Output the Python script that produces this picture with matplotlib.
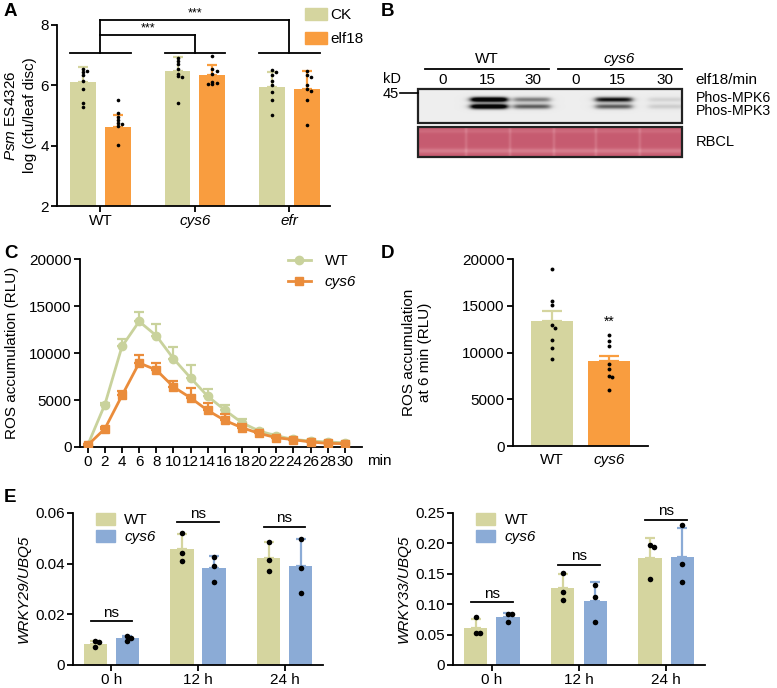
import matplotlib

matplotlib.use("Agg")  # non-GUI backend
import matplotlib.pyplot as plt
import numpy as np
from matplotlib.patches import Patch, Rectangle
from matplotlib.lines import Line2D

plt.rcParams["font.family"] = ["Liberation Sans", "DejaVu Sans"]
plt.rcParams["mathtext.fontset"] = "custom"
plt.rcParams["mathtext.rm"] = "Liberation Sans"
plt.rcParams["mathtext.it"] = "Liberation Sans:italic"
plt.rcParams["font.size"] = 11
plt.rcParams["axes.linewidth"] = 1.3
plt.rcParams["xtick.major.width"] = 1.3
plt.rcParams["ytick.major.width"] = 1.3
plt.rcParams["xtick.major.size"] = 4
plt.rcParams["ytick.major.size"] = 4

KHAKI = "#D5D59F"
ORANGE = "#F99D3F"
BLUE = "#8BABD6"
LINE_WT = "#C9D29C"
LINE_CYS = "#EA8C3B"
FS = 11

# ---- panel A: bacterial growth ----
a_groups = ["WT", "cys6", "efr"]
a_ck_mean = [6.10, 6.46, 5.95]
a_ck_sd = [0.50, 0.47, 0.50]
a_elf_mean = [4.62, 6.35, 5.88]
a_elf_sd = [0.41, 0.33, 0.58]
a_ck_pts = [
    [6.55, 6.49, 6.44, 6.33, 6.16, 5.89, 5.40, 5.27],
    [6.91, 6.82, 6.71, 6.55, 6.38, 6.30, 6.27, 5.42],
    [6.51, 6.44, 6.33, 6.16, 6.00, 5.78, 5.51, 5.02],
]
a_elf_pts = [
    [5.53, 5.07, 4.96, 4.85, 4.75, 4.72, 4.66, 4.03],
    [6.96, 6.55, 6.49, 6.38, 6.11, 6.08, 6.06, 6.03],
    [6.46, 6.33, 6.27, 6.00, 5.89, 5.82, 5.51, 4.69],
]

# ---- panel B: blot band strength per lane ----
b_genotypes = ["WT", "cys6"]
b_lanes = ["0", "15", "30", "0", "15", "30"]
b_mpk6 = [0.0, 1.0, 0.35, 0.0, 0.70, 0.08]
b_mpk3 = [0.0, 1.0, 0.45, 0.0, 0.45, 0.10]

# ---- panel C: ROS kinetics ----
c_time = [0, 2, 4, 6, 8, 10, 12, 14, 16, 18, 20, 22, 24, 26, 28, 30]
c_wt = [200, 4520, 10700, 13360, 11840, 9400, 7350, 5400, 3920, 2580, 1700, 1200, 800, 640, 530, 450]
c_wt_sem = [100, 200, 800, 1000, 1200, 1270, 1380, 820, 530, 350, 200, 150, 120, 100, 80, 80]
c_cys = [200, 1940, 5480, 8940, 8200, 6400, 5230, 3890, 2830, 2050, 1450, 990, 780, 530, 390, 350]
c_cys_sem = [80, 150, 460, 800, 750, 630, 1060, 800, 630, 350, 200, 150, 120, 100, 80, 80]

# ---- panel D: ROS at 6 min ----
d_labels = ["WT", "cys6"]
d_mean = [13400, 9050]
d_sem = [1000, 620]
d_pts = [
    [18900, 15540, 15120, 12970, 12580, 11390, 10440, 9290],
    [11830, 11270, 10670, 8760, 8270, 7540, 7380, 6000],
]

# ---- panel E: qPCR ----
e_labels = ["0 h", "12 h", "24 h"]
e1_wt = [0.0084, 0.0458, 0.0424]
e1_wt_sd = [0.0011, 0.0060, 0.0060]
e1_cys = [0.0105, 0.0381, 0.0389]
e1_cys_sd = [0.0011, 0.0050, 0.0107]
e1_wt_pts = [[0.0093, 0.0089, 0.0072], [0.0523, 0.0442, 0.0412], [0.0486, 0.0414, 0.0373]]
e1_cys_pts = [[0.0114, 0.0108, 0.0093], [0.0426, 0.0390, 0.0327], [0.0498, 0.0382, 0.0285]]
e1_ns = [0.0173, 0.0563, 0.0545]

e2_wt = [0.0613, 0.1265, 0.1767]
e2_wt_sd = [0.0150, 0.0235, 0.0320]
e2_cys = [0.0783, 0.1050, 0.1770]
e2_cys_sd = [0.0065, 0.0316, 0.0484]
e2_wt_pts = [[0.0783, 0.0532, 0.0522], [0.151, 0.120, 0.107], [0.197, 0.194, 0.141]]
e2_cys_pts = [[0.0833, 0.0833, 0.0708], [0.1315, 0.1125, 0.0713], [0.230, 0.166, 0.137]]
e2_ns = [0.1035, 0.165, 0.239]

W, H = 777, 688
fig = plt.figure(figsize=(W / 100, H / 100), dpi=100)


def px_axes(left, top, right, bottom):
    return fig.add_axes([left / W, 1 - bottom / H, (right - left) / W, (bottom - top) / H])


def style(ax, labelsize=FS):
    ax.spines["top"].set_visible(False)
    ax.spines["right"].set_visible(False)
    ax.tick_params(direction="out", labelsize=labelsize, pad=2)


def swarm(vals, thresh, step):
    """Small deterministic side-shift for points that would overlap."""
    placed = []
    offs = []
    for v in vals:
        near = [o for pv, o in placed if abs(pv - v) < thresh]
        o, k = 0.0, 1
        while any(abs(o - n) < 1e-9 for n in near):
            o = step * ((k + 1) // 2) * (1 if k % 2 else -1)
            k += 1
        placed.append((v, o))
        offs.append(o)
    return offs


def bars_with_dots(ax, xs, means, sds, pts, color, width, thresh, step, ms=2.6, capsize=4):
    ax.bar(xs, means, width=width, color=color, zorder=1)
    ax.errorbar(xs, means, yerr=[[0] * len(means), sds], fmt="none", ecolor=color,
                elinewidth=1.6, capsize=capsize, capthick=1.6, zorder=2)
    for x, p in zip(xs, pts):
        offs = swarm(p, thresh, step)
        ax.plot([x + o for o in offs], p, "o", color="black", ms=ms, mec="none", zorder=3)


def panel_label(x, y, s):
    fig.text(x / W, 1 - y / H, s, fontsize=13.5, fontweight="bold", va="center", ha="left")


# ================= A =================
axA = px_axes(57, 25, 330, 206)
style(axA)
gx = np.arange(len(a_groups))
off, bw = 0.184, 0.274
bars_with_dots(axA, gx - off, a_ck_mean, a_ck_sd, a_ck_pts, KHAKI, bw, 0.07, 0.045, ms=2.6, capsize=3.5)
bars_with_dots(axA, gx + off, a_elf_mean, a_elf_sd, a_elf_pts, ORANGE, bw, 0.07, 0.045, ms=2.6, capsize=3.5)
axA.set_ylim(2, 8)
axA.set_yticks([2, 4, 6, 8])
axA.set_xlim(-0.46, 2.43)
axA.set_xticks(gx)
axA.set_xticklabels(a_groups)
for lbl in axA.get_xticklabels()[1:]:
    lbl.set_style("italic")
axA.text(-0.168, 0.5, r"$\it{Psm}$ ES4326", transform=axA.transAxes, rotation=90,
         ha="center", va="center", fontsize=FS)
axA.text(-0.1, 0.5, "log (cfu/leaf disc)", transform=axA.transAxes, rotation=90,
         ha="center", va="center", fontsize=FS)
# significance brackets
ylow, ymid, yhigh = 7.08, 7.67, 8.16
kw = dict(color="black", lw=1.3, clip_on=False)
for g in gx:
    axA.plot([g - off - bw / 2, g + off + bw / 2], [ylow, ylow], **kw)
axA.plot([0, 0], [ylow, yhigh], **kw)
axA.plot([1, 1], [ylow, ymid], **kw)
axA.plot([2, 2], [ylow, yhigh], **kw)
axA.plot([0, 1], [ymid, ymid], **kw)
axA.plot([0, 2], [yhigh, yhigh], **kw)
axA.text(0.5, ymid + 0.03, "***", ha="center", va="bottom", fontsize=9)
axA.text(1.0, yhigh + 0.03, "***", ha="center", va="bottom", fontsize=9)
legA = axA.legend(handles=[Patch(color=KHAKI, label="CK"), Patch(color=ORANGE, label="elf18")],
                  loc="upper left", bbox_to_anchor=(305 / W, 1 - 8 / H), bbox_transform=fig.transFigure,
                  frameon=False, fontsize=FS, handlelength=1.45, handleheight=0.85,
                  handletextpad=0.2, labelspacing=0.6, borderpad=0, borderaxespad=0)

# ================= B =================
axB = px_axes(380, 0, 777, 170)
axB.set_xlim(380, 777)
axB.set_ylim(170, 0)
axB.axis("off")
lane_x = [443, 489, 532, 576, 614, 667]
bx0, bx1, by0, by1 = 418, 682, 89, 123
xs = np.linspace(bx0, bx1, 528)
ys = np.linspace(by0, by1, 68)
X, Y = np.meshgrid(xs, ys)
img = np.full(X.shape, 0.93)
for lx, i6, i3 in zip(lane_x, b_mpk6, b_mpk3):
    xprof = 1 / (1 + np.exp(-(X - (lx - 18)) / 2.0)) / (1 + np.exp((X - (lx + 18)) / 2.0))
    img -= 1.3 * i6 * xprof * np.exp(-((Y - 99.5) / 2.5) ** 2)
    img -= 1.3 * i3 * xprof * np.exp(-((Y - 106.5) / 2.5) ** 2)
img = np.clip(img, 0.02, 1)
axB.imshow(img, cmap="gray", vmin=0, vmax=1, extent=(bx0, bx1, by1, by0), aspect="auto",
           interpolation="bilinear", zorder=1)
axB.add_patch(Rectangle((bx0, by0), bx1 - bx0, by1 - by0, fill=False, lw=1.6, ec="#222222", zorder=2))

ry0, ry1 = 127, 157
ys2 = np.linspace(ry0, ry1, 60)
X2, Y2 = np.meshgrid(xs, ys2)
base = np.array([0.78, 0.36, 0.44])
light = np.array([0.89, 0.60, 0.65])
mix = 0.55 * np.exp(-((Y2 - 151) / 2.5) ** 2) + 0.25 * np.exp(-((Y2 - 131) / 2.0) ** 2)
for gap in [466, 510, 554, 596, 640]:
    mix = mix + 0.35 * np.exp(-((X2 - gap) / 1.5) ** 2)
mix = np.clip(mix, 0, 1)
rb = base[None, None, :] + (light - base)[None, None, :] * mix[..., None]
axB.imshow(rb, extent=(bx0, bx1, ry1, ry0), aspect="auto", interpolation="bilinear", zorder=1)
axB.add_patch(Rectangle((bx0, ry0), bx1 - bx0, ry1 - ry0, fill=False, lw=1.6, ec="#222222", zorder=2))

axB.text(487, 59, b_genotypes[0], ha="center", va="center", fontsize=FS)
axB.text(619, 59, b_genotypes[1], ha="center", va="center", fontsize=FS, style="italic")
axB.plot([425, 549], [69, 69], color="black", lw=1.3)
axB.plot([558, 682], [69, 69], color="black", lw=1.3)
for lx, lab in zip([443, 487, 533, 576, 617, 665], b_lanes):
    axB.text(lx, 80, lab, ha="center", va="center", fontsize=FS)
axB.text(695, 80, "elf18/min", ha="left", va="center", fontsize=FS)
axB.text(392, 79, "kD", ha="center", va="center", fontsize=10.5)
axB.text(399, 93.5, "45", ha="right", va="center", fontsize=10.5)
axB.plot([400, 418], [93, 93], color="black", lw=1.2)
axB.text(696, 98.5, "Phos-MPK6", ha="left", va="center", fontsize=10.2)
axB.text(696, 111, "Phos-MPK3", ha="left", va="center", fontsize=10.2)
axB.text(696, 142, "RBCL", ha="left", va="center", fontsize=10.5)

# ================= C =================
axC = px_axes(80, 259, 362, 447)
style(axC)
axC.errorbar(c_time, c_wt, yerr=[[0] * len(c_wt), c_wt_sem], color=LINE_WT, lw=2, marker="o",
             ms=6, capsize=3.5, elinewidth=1.6, capthick=1.6, label="WT", zorder=2)
axC.errorbar(c_time, c_cys, yerr=[[0] * len(c_cys), c_cys_sem], color=LINE_CYS, lw=2, marker="s",
             ms=5.5, capsize=3.5, elinewidth=1.6, capthick=1.6, label="cys6", zorder=3)
axC.set_ylim(0, 20000)
axC.set_yticks([0, 5000, 10000, 15000, 20000])
axC.set_xlim(-0.9, 32)
axC.set_xticks(c_time)
axC.set_ylabel("ROS accumulation (RLU)", fontsize=FS)
axC.yaxis.set_label_coords(-0.215, 0.5)
axC.text(32.6, -0.038, "min", transform=axC.get_xaxis_transform(), ha="left", va="top", fontsize=FS)
h_wt = Line2D([], [], color=LINE_WT, lw=2, marker="o", ms=6)
h_cy = Line2D([], [], color=LINE_CYS, lw=2, marker="s", ms=5.5)
legC = axC.legend([h_wt, h_cy], ["WT", "cys6"], loc="upper left", bbox_to_anchor=(288 / W, 1 - 254 / H),
                  bbox_transform=fig.transFigure, frameon=False, fontsize=FS, handlelength=1.5,
                  handletextpad=0.9, labelspacing=0.45, borderpad=0, borderaxespad=0)
legC.get_texts()[1].set_style("italic")

# ================= D =================
axD = px_axes(513, 259, 648, 446)
style(axD)
dx = np.arange(len(d_labels))
bars_with_dots(axD, dx[:1], d_mean[:1], d_sem[:1], d_pts[:1], KHAKI, 0.737, 400, 0.06, ms=2.8, capsize=7)
bars_with_dots(axD, dx[1:], d_mean[1:], d_sem[1:], d_pts[1:], ORANGE, 0.737, 400, 0.06, ms=2.8, capsize=7)
axD.set_ylim(0, 20000)
axD.set_yticks([0, 5000, 10000, 15000, 20000])
axD.set_xlim(-0.684, 1.684)
axD.set_xticks(dx)
axD.set_xticklabels(d_labels)
axD.get_xticklabels()[1].set_style("italic")
axD.tick_params(axis="x", length=0, pad=5)
axD.set_ylabel("ROS accumulation\nat 6 min (RLU)", fontsize=FS)
axD.yaxis.set_label_coords(-0.6, 0.5)
axD.text(1, max(d_pts[1]) + 700, "**", ha="center", va="bottom", fontsize=10)


# ================= E =================
def qpcr_panel(ax, wt, wt_sd, cys, cys_sd, wt_pts, cys_pts, ns, ymax, yticks, ylabel, thresh):
    style(ax)
    ex = np.arange(len(e_labels))
    o, w = 0.185, 0.266
    bars_with_dots(ax, ex - o, wt, wt_sd, wt_pts, KHAKI, w, thresh, 0.045, ms=4, capsize=3.5)
    bars_with_dots(ax, ex + o, cys, cys_sd, cys_pts, BLUE, w, thresh, 0.045, ms=4, capsize=3.5)
    for g, y in zip(ex, ns):
        ax.plot([g - 0.24, g + 0.24], [y, y], color="black", lw=1.3, clip_on=False)
        ax.text(g, y + ymax * 0.01, "ns", ha="center", va="bottom", fontsize=FS, clip_on=False)
    ax.set_ylim(0, ymax)
    ax.set_yticks(yticks)
    ax.set_xlim(-0.445, 2.445)
    ax.set_xticks(ex)
    ax.set_xticklabels(e_labels)
    ax.set_ylabel(ylabel, fontsize=FS, style="italic", labelpad=3)
    lg = ax.legend(handles=[Patch(color=KHAKI, label="WT"), Patch(color=BLUE, label="cys6")],
                   loc="upper left", bbox_to_anchor=(0.092, 1.0), frameon=False, fontsize=FS,
                   handlelength=1.25, handleheight=0.8, handletextpad=0.6, labelspacing=0.2,
                   borderpad=0, borderaxespad=0)
    lg.get_texts()[1].set_style("italic")


axE1 = px_axes(73, 513, 323, 665)
qpcr_panel(axE1, e1_wt, e1_wt_sd, e1_cys, e1_cys_sd, e1_wt_pts, e1_cys_pts, e1_ns,
           0.06, [0, 0.02, 0.04, 0.06], "WRKY29/UBQ5", 0.0012)
axE1.set_yticklabels(["0", "0.02", "0.04", "0.06"])

axE2 = px_axes(453, 513, 705, 665)
qpcr_panel(axE2, e2_wt, e2_wt_sd, e2_cys, e2_cys_sd, e2_wt_pts, e2_cys_pts, e2_ns,
           0.25, [0, 0.05, 0.10, 0.15, 0.20, 0.25], "WRKY33/UBQ5", 0.005)
axE2.set_yticklabels(["0", "0.05", "0.10", "0.15", "0.20", "0.25"])

panel_label(4, 12, "A")
panel_label(381, 12, "B")
panel_label(4, 253, "C")
panel_label(381, 253, "D")
panel_label(4, 497, "E")

fig.savefig("out.png", dpi=100)
plt.close(fig)
